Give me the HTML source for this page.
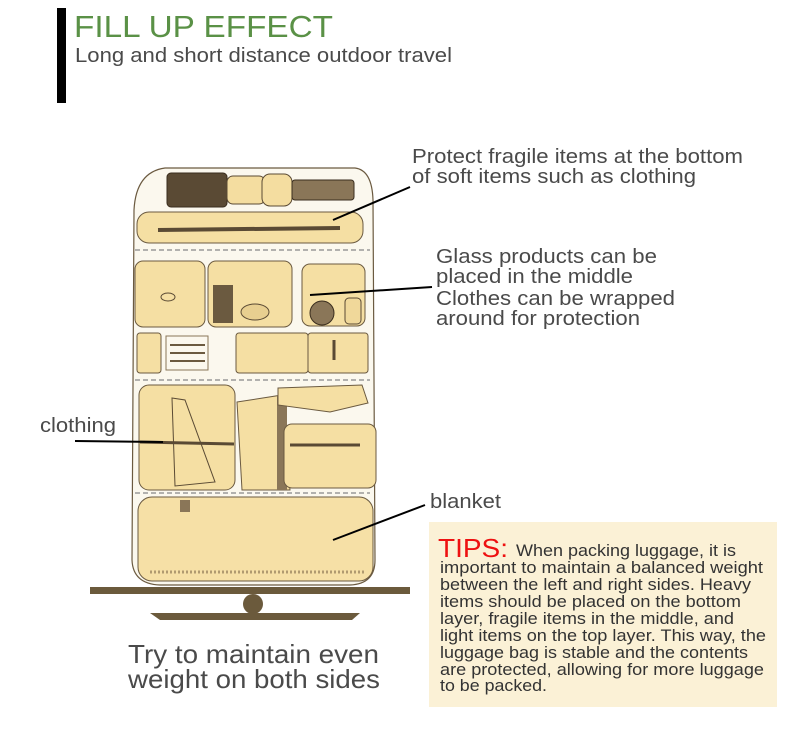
<!DOCTYPE html>
<html><head><meta charset="utf-8"><style>
html,body{margin:0;padding:0;background:#fff;}
body{width:790px;height:739px;overflow:hidden;position:relative;}
svg{position:absolute;left:0;top:0;}
text{font-family:"Liberation Sans",sans-serif;}
</style></head><body>
<svg width="790" height="739" viewBox="0 0 790 739" xmlns="http://www.w3.org/2000/svg">
<rect x="57" y="8" width="9" height="95" fill="#000"/>
<text x="74" y="37" font-size="31" fill="#5a9146" textLength="259" lengthAdjust="spacingAndGlyphs">FILL UP EFFECT</text>
<text x="75" y="62" font-size="20" fill="#4a4a4a" textLength="377" lengthAdjust="spacingAndGlyphs">Long and short distance outdoor travel</text>

<path d="M165,168 L355,168 Q372,170 373,200 L375,560 Q375,584 350,585 L160,585 Q133,584 132,560 L134,210 Q136,172 165,168 Z" fill="#fbf8ee" stroke="#6b5a40" stroke-width="1.2"/>
<rect x="167" y="173" width="60" height="34" rx="4" fill="#5a4a34" stroke="#3a2d1e"/>
<rect x="227" y="176" width="38" height="28" rx="6" fill="#f4dda0" stroke="#5a4a34"/>
<rect x="262" y="174" width="30" height="32" rx="8" fill="#f4dda0" stroke="#5a4a34"/>
<rect x="292" y="180" width="62" height="20" rx="3" fill="#8a7658" stroke="#3a2d1e"/>
<rect x="137" y="212" width="226" height="31" rx="12" fill="#f5dfa3" stroke="#6b5a40"/>
<line x1="158" y1="230" x2="340" y2="228" stroke="#5a4a34" stroke-width="4"/>
<line x1="135" y1="250" x2="370" y2="250" stroke="#999" stroke-width="1.5" stroke-dasharray="5,3"/>
<rect x="135" y="261" width="70" height="66" rx="8" fill="#f5dfa3" stroke="#6b5a40"/>
<ellipse cx="168" cy="297" rx="7" ry="4" fill="none" stroke="#5a4a34"/>
<rect x="208" y="261" width="84" height="66" rx="8" fill="#f5dfa3" stroke="#6b5a40"/>
<rect x="213" y="285" width="20" height="38" fill="#6b5a40"/>
<ellipse cx="255" cy="312" rx="14" ry="8" fill="#e8cf90" stroke="#5a4a34"/>
<rect x="302" y="264" width="63" height="62" rx="8" fill="#f5dfa3" stroke="#6b5a40"/>
<circle cx="322" cy="313" r="12" fill="#8a7658" stroke="#3a2d1e"/>
<rect x="345" y="298" width="16" height="26" rx="4" fill="#f0d89a" stroke="#5a4a34"/>
<rect x="137" y="333" width="24" height="40" rx="3" fill="#f5dfa3" stroke="#6b5a40"/>
<rect x="166" y="336" width="42" height="34" fill="#fbf8ee" stroke="#8a7658"/>
<line x1="170" y1="345" x2="205" y2="345" stroke="#6b5a40" stroke-width="2"/>
<line x1="170" y1="353" x2="205" y2="353" stroke="#6b5a40" stroke-width="2"/>
<line x1="170" y1="361" x2="205" y2="361" stroke="#6b5a40" stroke-width="2"/>
<rect x="236" y="333" width="72" height="40" rx="3" fill="#f5dfa3" stroke="#6b5a40"/>
<rect x="308" y="333" width="60" height="40" rx="3" fill="#f5dfa3" stroke="#6b5a40"/>
<line x1="334" y1="340" x2="334" y2="360" stroke="#5a4a34" stroke-width="3"/>
<line x1="135" y1="380" x2="370" y2="380" stroke="#999" stroke-width="1.5" stroke-dasharray="5,3"/>
<rect x="139" y="385" width="96" height="105" rx="10" fill="#f5dfa3" stroke="#6b5a40"/>
<path d="M172,398 L185,400 L215,482 L175,486 Z" fill="#f5dfa3" stroke="#5a4a34"/>
<line x1="140" y1="442" x2="234" y2="444" stroke="#5a4a34" stroke-width="3"/>
<path d="M237,402 L282,395 L290,490 L242,490 Z" fill="#f5dfa3" stroke="#6b5a40"/>
<rect x="277" y="395" width="10" height="95" fill="#8a7658"/>
<path d="M278,388 L362,385 L368,403 L330,412 L278,405 Z" fill="#f5dfa3" stroke="#6b5a40"/>
<rect x="284" y="424" width="92" height="64" rx="8" fill="#f5dfa3" stroke="#6b5a40"/>
<line x1="290" y1="445" x2="360" y2="445" stroke="#5a4a34" stroke-width="3"/>
<line x1="135" y1="493" x2="370" y2="493" stroke="#999" stroke-width="1.5" stroke-dasharray="5,3"/>
<rect x="138" y="497" width="235" height="84" rx="14" fill="#f6e0a6" stroke="#6b5a40"/>
<rect x="180" y="500" width="10" height="12" fill="#8a7658"/>
<line x1="150" y1="572" x2="365" y2="572" stroke="#b09a70" stroke-width="3" stroke-dasharray="2,2"/>
<rect x="90" y="587" width="320" height="7" fill="#6b5a3c"/>
<circle cx="253" cy="604" r="10" fill="#6b5a3c"/>
<path d="M150,613 L360,613 L352,620 L160,620 Z" fill="#6b5a3c"/>

<line x1="410" y1="187" x2="333" y2="220" stroke="#000" stroke-width="2"/>
<line x1="432" y1="287" x2="310" y2="295" stroke="#000" stroke-width="2"/>
<line x1="75" y1="441" x2="163" y2="442" stroke="#000" stroke-width="2"/>
<line x1="425" y1="505" x2="333" y2="540" stroke="#000" stroke-width="2"/>

<g font-size="20" fill="#4a4a4a">
<text x="412" y="163" textLength="331" lengthAdjust="spacingAndGlyphs">Protect fragile items at the bottom</text>
<text x="412" y="183" textLength="284" lengthAdjust="spacingAndGlyphs">of soft items such as clothing</text>
<text x="436" y="263" textLength="221" lengthAdjust="spacingAndGlyphs">Glass products can be</text>
<text x="436" y="283" textLength="197" lengthAdjust="spacingAndGlyphs">placed in the middle</text>
<text x="436" y="305" textLength="239" lengthAdjust="spacingAndGlyphs">Clothes can be wrapped</text>
<text x="436" y="325" textLength="204" lengthAdjust="spacingAndGlyphs">around for protection</text>
<text x="40" y="432" textLength="76" lengthAdjust="spacingAndGlyphs">clothing</text>
<text x="430" y="508" textLength="71" lengthAdjust="spacingAndGlyphs">blanket</text>
</g>
<g font-size="26" fill="#4a4a4a">
<text x="128" y="663" textLength="251" lengthAdjust="spacingAndGlyphs">Try to maintain even</text>
<text x="128" y="688" textLength="252" lengthAdjust="spacingAndGlyphs">weight on both sides</text>
</g>

<rect x="429" y="522" width="348" height="185" fill="#fbf1d6"/>
<text x="438" y="557" font-size="26" fill="#ee1111" textLength="70" lengthAdjust="spacingAndGlyphs">TIPS:</text>
<g font-size="17" fill="#333">
<text x="516" y="556" textLength="220" lengthAdjust="spacingAndGlyphs">When packing luggage, it is</text>
<text x="440" y="573" textLength="323" lengthAdjust="spacingAndGlyphs">important to maintain a balanced weight</text>
<text x="440" y="590" textLength="311" lengthAdjust="spacingAndGlyphs">between the left and right sides. Heavy</text>
<text x="440" y="607" textLength="301" lengthAdjust="spacingAndGlyphs">items should be placed on the bottom</text>
<text x="440" y="624" textLength="294" lengthAdjust="spacingAndGlyphs">layer, fragile items in the middle, and</text>
<text x="440" y="641" textLength="326" lengthAdjust="spacingAndGlyphs">light items on the top layer. This way, the</text>
<text x="440" y="658" textLength="308" lengthAdjust="spacingAndGlyphs">luggage bag is stable and the contents</text>
<text x="440" y="675" textLength="324" lengthAdjust="spacingAndGlyphs">are protected, allowing for more luggage</text>
<text x="440" y="691" textLength="107" lengthAdjust="spacingAndGlyphs">to be packed.</text>
</g>
</svg>
</body></html>
